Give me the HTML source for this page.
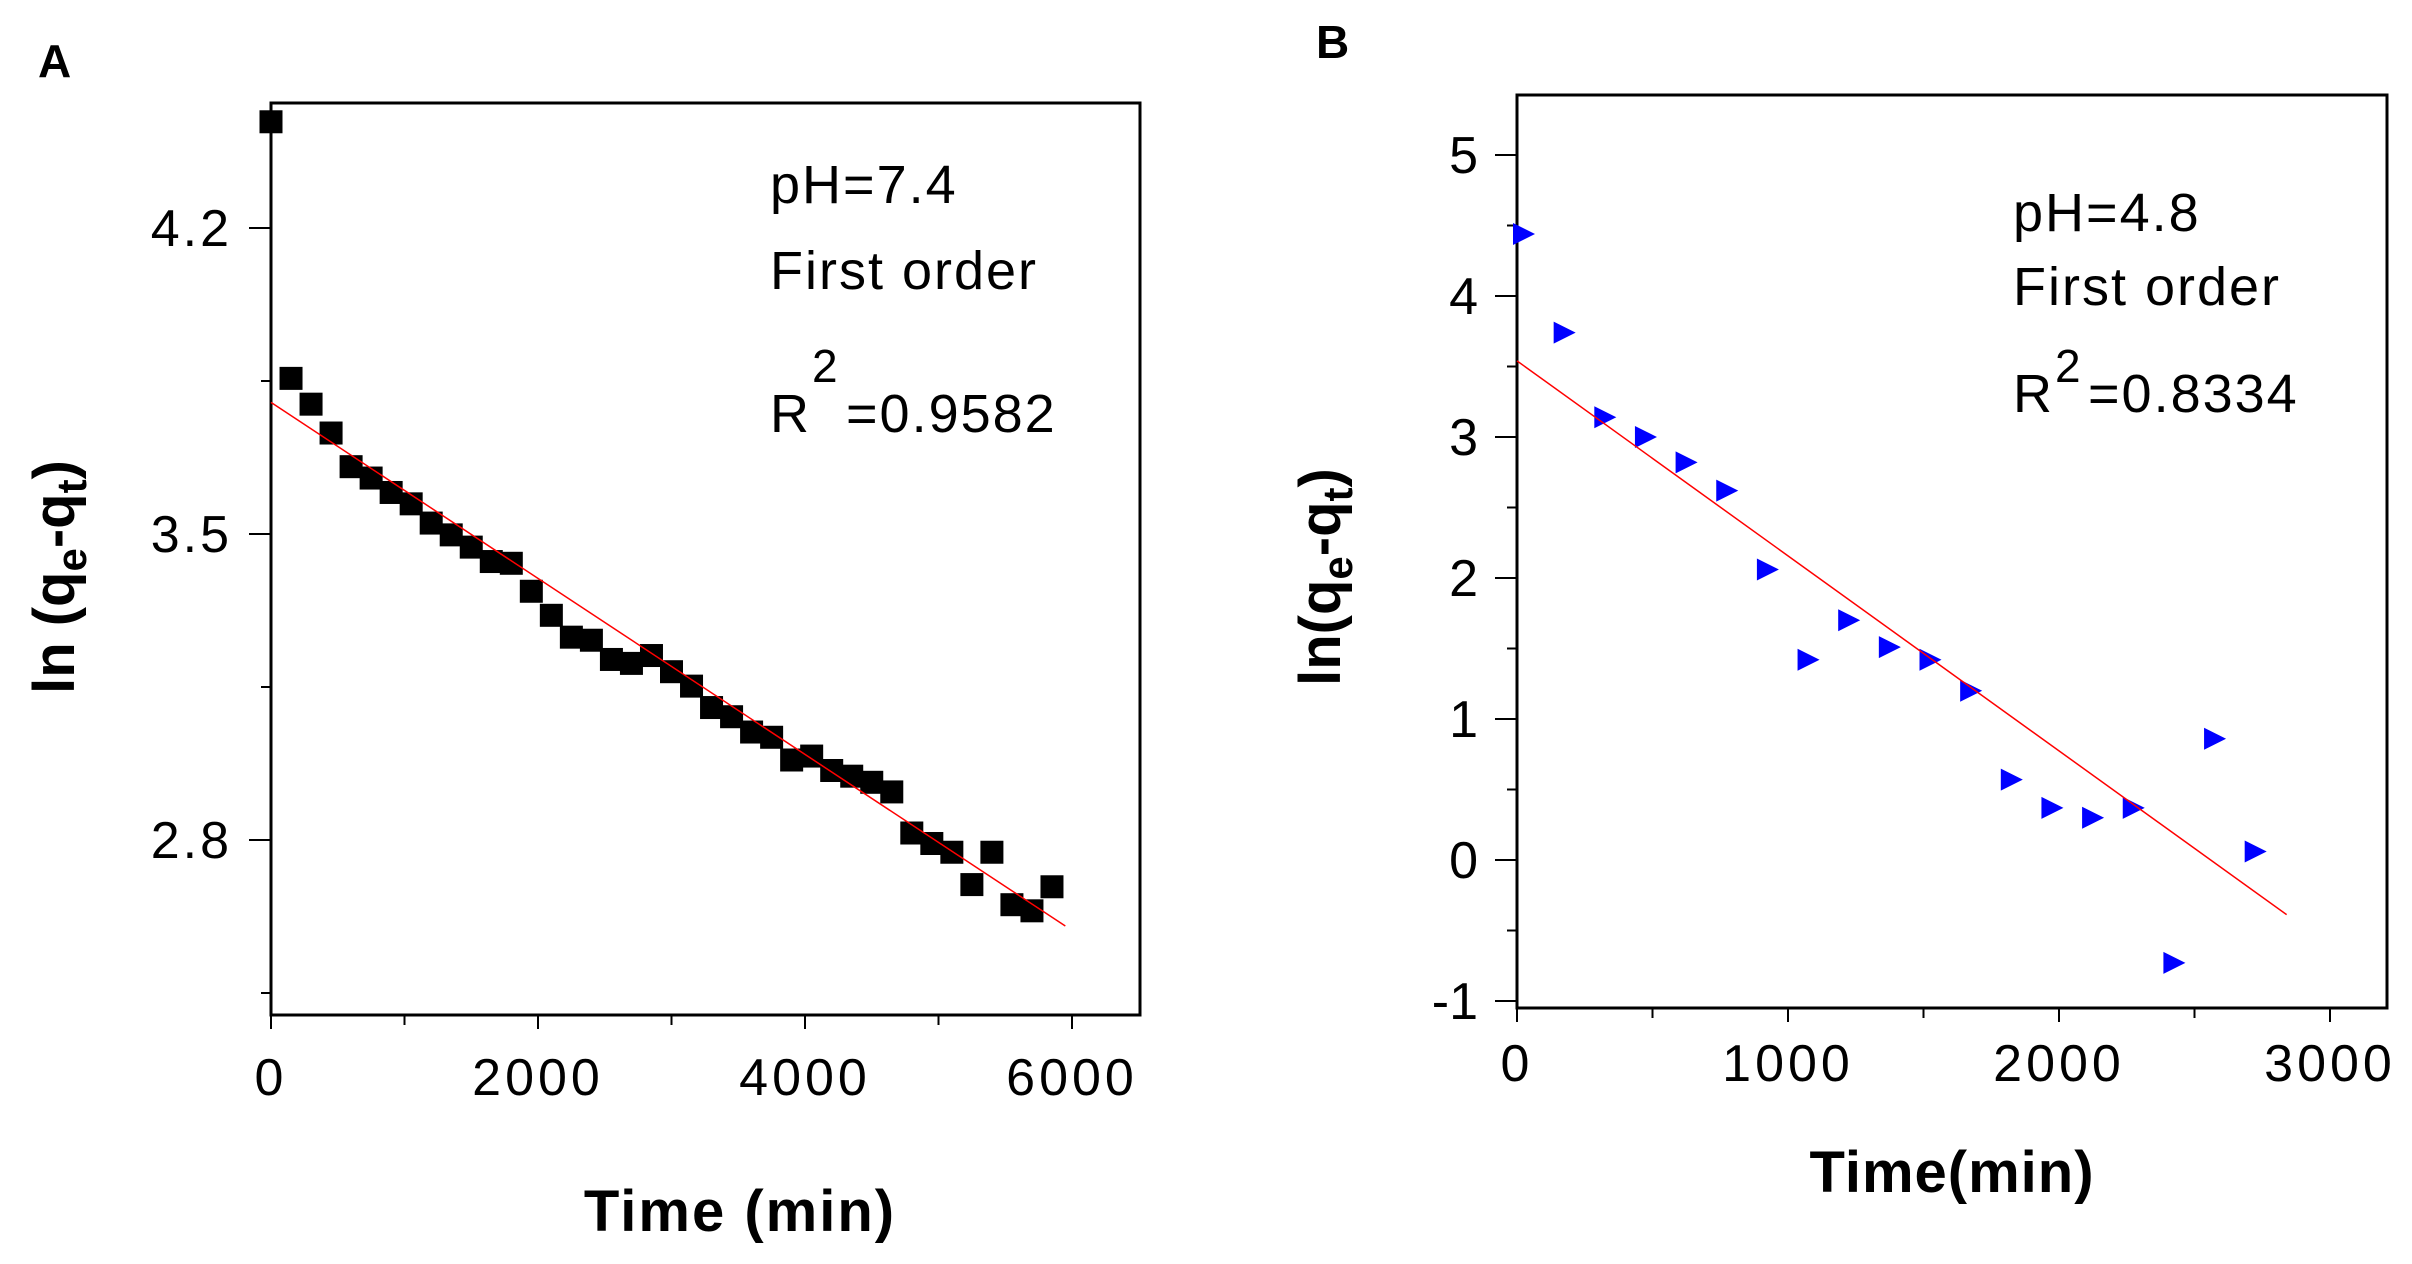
<!DOCTYPE html>
<html><head><meta charset="utf-8"><style>
html,body{margin:0;padding:0;background:#fff;}
svg{display:block;font-family:"Liberation Sans",Arial,sans-serif;}
</style></head><body>
<svg id="svg" width="2412" height="1264" viewBox="0 0 2412 1264" xmlns="http://www.w3.org/2000/svg">
<g id="pa"></g>
<g id="pb"></g>
</svg>
<script>
const aTime=[0,150,300,450,600,750,900,1050,1200,1350,1500,1650,1800,1950,2100,2250,2400,2550,2700,2850,3000,3150,3300,3450,3600,3750,3900,4050,4200,4350,4500,4650,4800,4950,5100,5250,5400,5550,5700,5850];
const aVals=[4.443,3.856,3.797,3.731,3.654,3.628,3.595,3.569,3.525,3.498,3.470,3.437,3.433,3.369,3.314,3.264,3.257,3.213,3.204,3.222,3.185,3.152,3.103,3.082,3.047,3.035,2.983,2.992,2.959,2.946,2.932,2.910,2.816,2.792,2.772,2.698,2.772,2.652,2.638,2.693];
const aFit=[3.801,-0.0002013];
const aFitRange=[0,5950];
const aXTicks=[0,2000,4000,6000];
const aYTicks=[4.2,3.5,2.8];
const bTime=[0,150,300,450,600,750,900,1050,1200,1350,1500,1650,1800,1950,2100,2250,2400,2550,2700];
const bVals=[4.44,3.74,3.14,3.00,2.82,2.62,2.06,1.42,1.70,1.51,1.42,1.20,0.57,0.37,0.30,0.37,-0.73,0.86,0.06];
const bFit=[3.54,-0.001383];
const bFitRange=[0,2840];
const bXTicks=[0,1000,2000,3000];
const bYTicks=[-1,0,1,2,3,4,5];

const NS="http://www.w3.org/2000/svg";
function mk(p,t,a,txt){const e=document.createElementNS(NS,t);for(const k in a)e.setAttribute(k,a[k]);if(txt!==undefined)e.textContent=txt;p.appendChild(e);return e;}

// Panel A
const pa=document.getElementById('pa');
const ax=v=>271+(v/2000)*267, ay=v=>228+(4.2-v)/0.7*306;
let e;
e=mk(pa,'rect',{x:271,y:103,width:869,height:912,fill:'none',stroke:'#000','stroke-width':3});


[0,1000,2000,3000,4000,5000,6000].forEach(v=>{const L=v%2000===0?14:10;e=mk(pa,'line',{x1:ax(v),x2:ax(v),y1:1015,y2:1015+L,stroke:'#000','stroke-width':2});

});
[3.85+0.7,4.2,3.85,3.5,3.15,2.8,2.45].forEach(v=>{const maj=aYTicks.includes(v);if(v>4.5)return;e=mk(pa,'line',{x1:271-(maj?22:10),x2:271,y1:ay(v),y2:ay(v),stroke:'#000','stroke-width':2});

});
aXTicks.forEach(v=>{e=mk(pa,'text',{x:ax(v),y:1095,'font-size':52,'letter-spacing':4,'text-anchor':'middle'},String(v));

});
aYTicks.forEach(v=>{e=mk(pa,'text',{x:232,y:ay(v)+18,'font-size':52,'letter-spacing':3,'text-anchor':'end'},v.toFixed(1));

});
aTime.forEach((t,i)=>{e=mk(pa,'rect',{x:ax(t)-11.5,y:ay(aVals[i])-11.5,width:23,height:23,fill:'#000'});

});
e=mk(pa,'line',{x1:ax(aFitRange[0]),y1:ay(aFit[0]+aFit[1]*aFitRange[0]),x2:ax(aFitRange[1]),y2:ay(aFit[0]+aFit[1]*aFitRange[1]),stroke:'#f00','stroke-width':1.5});


e=mk(pa,'text',{x:38,y:77,'font-size':46,'font-weight':'bold'},'A');


e=mk(pa,'text',{x:770,y:203,'font-size':54,'letter-spacing':2},'pH=7.4');


e=mk(pa,'text',{x:770,y:289,'font-size':54,'letter-spacing':2},'First order');


e=mk(pa,'text',{x:770,y:432,'font-size':54},'R');


e=mk(pa,'text',{x:812,y:382,'font-size':46},'2');


e=mk(pa,'text',{x:846,y:432,'font-size':54,'letter-spacing':2},'=0.9582');


e=mk(pa,'text',{x:740,y:1231,'font-size':58,'font-weight':'bold','letter-spacing':2,'text-anchor':'middle'},'Time (min)');


e=mk(pa,'text',{x:0,y:0,'font-size':58,'font-weight':'bold','text-anchor':'middle',transform:'translate(74,577) rotate(-90)'});


e.innerHTML='ln (q<tspan font-size="42" dy="12">e</tspan><tspan dy="-12">-q</tspan><tspan font-size="42" dy="12">t</tspan><tspan dy="-12">)</tspan>';

// Panel B
const pb=document.getElementById('pb');
const bx=v=>1517+(v/1000)*271, by=v=>860-v*141;
e=mk(pb,'rect',{x:1517,y:95,width:870,height:913,fill:'none',stroke:'#000','stroke-width':3});


[0,500,1000,1500,2000,2500,3000].forEach(v=>{const L=v%1000===0?14:10;e=mk(pb,'line',{x1:bx(v),x2:bx(v),y1:1008,y2:1008+L,stroke:'#000','stroke-width':2});

});
[-1,-0.5,0,0.5,1,1.5,2,2.5,3,3.5,4,4.5,5].forEach(v=>{const maj=Number.isInteger(v);e=mk(pb,'line',{x1:1517-(maj?22:10),x2:1517,y1:by(v),y2:by(v),stroke:'#000','stroke-width':2});

});
bXTicks.forEach(v=>{e=mk(pb,'text',{x:bx(v),y:1081,'font-size':52,'letter-spacing':4,'text-anchor':'middle'},String(v));

});
bYTicks.forEach(v=>{e=mk(pb,'text',{x:1478,y:by(v)+18,'font-size':52,'text-anchor':'end'},v<0?'-'+Math.abs(v):String(v));

});
bTime.forEach((t,i)=>{const X=bx(t)+4,Y=by(bVals[i]);e=mk(pb,'polygon',{points:`${X-8},${Y-11} ${X+14},${Y} ${X-8},${Y+11}`,fill:'#0000ff'});

});
e=mk(pb,'line',{x1:bx(bFitRange[0]),y1:by(bFit[0]+bFit[1]*bFitRange[0]),x2:bx(bFitRange[1]),y2:by(bFit[0]+bFit[1]*bFitRange[1]),stroke:'#f00','stroke-width':1.5});


e=mk(pb,'text',{x:1316,y:58,'font-size':46,'font-weight':'bold'},'B');


e=mk(pb,'text',{x:2013,y:231,'font-size':54,'letter-spacing':2},'pH=4.8');


e=mk(pb,'text',{x:2013,y:305,'font-size':54,'letter-spacing':2},'First order');


e=mk(pb,'text',{x:2013,y:412,'font-size':54},'R');


e=mk(pb,'text',{x:2055,y:382,'font-size':46},'2');


e=mk(pb,'text',{x:2088,y:412,'font-size':54,'letter-spacing':2},'=0.8334');


e=mk(pb,'text',{x:1952,y:1192,'font-size':58,'font-weight':'bold','letter-spacing':1,'text-anchor':'middle'},'Time(min)');


e=mk(pb,'text',{x:0,y:0,'font-size':58,'font-weight':'bold','text-anchor':'middle',transform:'translate(1340,577) rotate(-90)'});


e.innerHTML='ln(q<tspan font-size="42" dy="12">e</tspan><tspan dy="-12">-q</tspan><tspan font-size="42" dy="12">t</tspan><tspan dy="-12">)</tspan>';
</script>
</body></html>
